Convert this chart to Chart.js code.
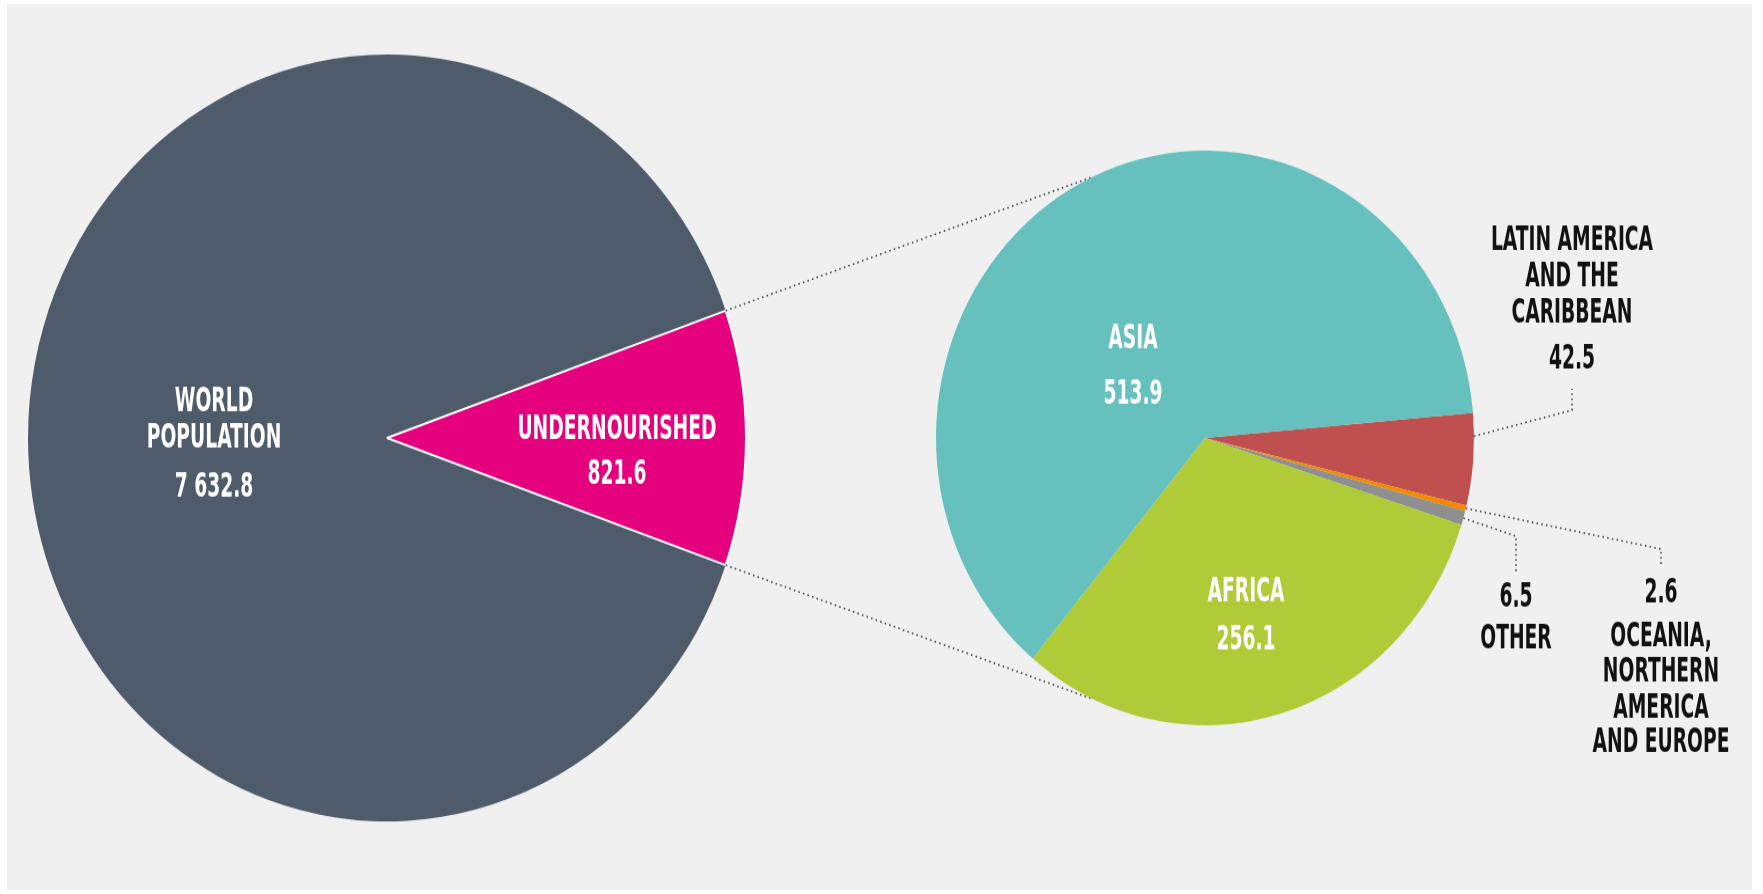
<!DOCTYPE html>
<html>
<head>
<meta charset="utf-8">
<title>Undernourished people in the world</title>
<script src="https://cdn.jsdelivr.net/npm/chart.js@4/dist/chart.umd.min.js"></script>
<style>
  html, body { margin: 0; padding: 0; background: #ffffff; }
  #wrap { position: relative; width: 1763px; height: 894px; overflow: hidden; }
  #bg { position: absolute; left: 7px; top: 4px; width: 1745px; height: 886px; background: #f0f0f0; }
  canvas { position: absolute; left: 0; top: 0; }
</style>
</head>
<body>
<div id="wrap">
  <div id="bg"></div>
  <!-- the original picture is a little taller than wide, so the canvases are stretched to 894px -->
  <canvas id="world" width="1763" height="837" style="width:1763px;height:894px"></canvas>
  <canvas id="regions" width="1763" height="837" style="width:1763px;height:894px"></canvas>
</div>
<script>
// millions of people
const worldLabels = ['WORLD\nPOPULATION', 'UNDERNOURISHED'];
const worldValues = [7632.8, 821.6];

// undernourished by region (millions), clockwise from the right
const regionLabels = [
  'LATIN AMERICA\nAND THE\nCARIBBEAN',
  'OCEANIA,\nNORTHERN\nAMERICA\nAND EUROPE',
  'OTHER',
  'AFRICA',
  'ASIA'
];
const regionValues = [42.5, 2.6, 6.5, 256.1, 513.9];

const worldColors = ['#4e5b6a', '#e5007e'];
const regionColors = ['#c0504f', '#f28a00', '#8f8f8f', '#afcb37', '#66c0be'];

const FONT = 'bold 32px "Liberation Sans Narrow", "DejaVu Sans Condensed", "Roboto", sans-serif';
const SQUEEZE = 0.65;

function fmt(v) {
  const parts = v.toFixed(1).split('.');
  return parts[0].replace(/\B(?=(\d{3})+(?!\d))/g, ' ') + '.' + parts[1];
}

function text(ctx, str, x, y, color) {
  ctx.save();
  ctx.font = FONT;
  ctx.fillStyle = color;
  ctx.textAlign = 'center';
  ctx.textBaseline = 'middle';
  ctx.translate(x, y);
  ctx.scale(SQUEEZE, 1);
  ctx.fillText(str, 0, 0);
  ctx.restore();
}

function dotted(ctx, pts) {
  ctx.save();
  ctx.strokeStyle = '#444';
  ctx.lineWidth = 1.6;
  ctx.setLineDash([1.6, 3.2]);
  ctx.beginPath();
  ctx.moveTo(pts[0][0], pts[0][1]);
  pts.slice(1).forEach(p => ctx.lineTo(p[0], p[1]));
  ctx.stroke();
  ctx.restore();
}

// text placement, offsets from the pie centre
const worldText = [
  { dx: -173, dy: [-33, 1], valueDy: 47, color: '#fff' },
  { dx: 230, dy: [-7], valueDy: 35, color: '#fff' }
];
const regionText = [
  { dx: 367, dy: [-184, -150, -116], valueDy: -73, color: '#111', leader: { at: 0.25, pts: [[367, -26], [367, -46]] } },
  { dx: 456, dy: [187, 220, 254, 286], valueDy: 146, color: '#111', leader: { at: 0.5, pts: [[456, 104], [456, 119]] } },
  { dx: 311, dy: [189], valueDy: 150, color: '#111', leader: { at: 0.5, pts: [[311, 92], [311, 126]] } },
  { dx: 41, dy: [145], valueDy: 190, color: '#fff' },
  { dx: -72, dy: [-92], valueDy: -40, color: '#fff' }
];

function labelPlugin(labels, values, spec) {
  return {
    id: 'pieText',
    afterDatasetsDraw(chart) {
      const ctx = chart.ctx;
      const arcs = chart.getDatasetMeta(0).data;
      arcs.forEach((arc, i) => {
        const s = spec[i];
        const cx = arc.x, cy = arc.y;
        if (s.leader) {
          const a = arc.startAngle + (arc.endAngle - arc.startAngle) * s.leader.at;
          const start = [cx + arc.outerRadius * Math.cos(a), cy + arc.outerRadius * Math.sin(a)];
          dotted(ctx, [start].concat(s.leader.pts.map(p => [cx + p[0], cy + p[1]])));
        }
        labels[i].split('\n').forEach((line, k) => text(ctx, line, cx + s.dx, cy + s.dy[k], s.color));
        text(ctx, fmt(values[i]), cx + s.dx, cy + s.valueDy, s.color);
      });
    }
  };
}

// the slate slice is the part of the world that is not undernourished
const notUndernourished = worldValues[0] - worldValues[1];
const pinkAngle = worldValues[1] / worldValues[0] * 360;

const worldChart = new Chart(document.getElementById('world'), {
  type: 'pie',
  data: {
    labels: worldLabels,
    datasets: [{
      data: [notUndernourished, worldValues[1]],
      backgroundColor: worldColors,
      borderColor: '#ffffff',
      borderWidth: [0, 2]
    }]
  },
  options: {
    responsive: false,
    animation: false,
    rotation: 90 + pinkAngle / 2,
    radius: 359,
    layout: { padding: { left: 28, right: 1017, top: 51, bottom: 68 } },
    plugins: { legend: { display: false }, tooltip: { enabled: false } }
  },
  plugins: [labelPlugin(worldLabels, worldValues, worldText)]
});

// dotted lines from the pink wedge to the regional pie
const zoomLines = {
  id: 'zoomLines',
  beforeDatasetsDraw(chart) {
    const pink = worldChart.getDatasetMeta(0).data[1];
    const big = chart.getDatasetMeta(0).data[0];
    const r2 = big.outerRadius;
    const hit = 114.5 * Math.PI / 180;
    [[pink.startAngle, -hit], [pink.endAngle, hit]].forEach(([a, b]) => {
      dotted(chart.ctx, [
        [pink.x + pink.outerRadius * Math.cos(a), pink.y + pink.outerRadius * Math.sin(a)],
        [big.x + r2 * Math.cos(b), big.y + r2 * Math.sin(b)]
      ]);
    });
  }
};

new Chart(document.getElementById('regions'), {
  type: 'pie',
  data: {
    labels: regionLabels.map(l => l.replace(/\n/g, ' ')),
    datasets: [{
      data: regionValues,
      backgroundColor: regionColors,
      borderWidth: 0
    }]
  },
  options: {
    responsive: false,
    animation: false,
    rotation: 85,
    radius: 269,
    layout: { padding: { left: 936, right: 289, top: 141, bottom: 158 } },
    plugins: { legend: { display: false }, tooltip: { enabled: false } }
  },
  plugins: [zoomLines, labelPlugin(regionLabels, regionValues, regionText)]
});
</script>
</body>
</html>
